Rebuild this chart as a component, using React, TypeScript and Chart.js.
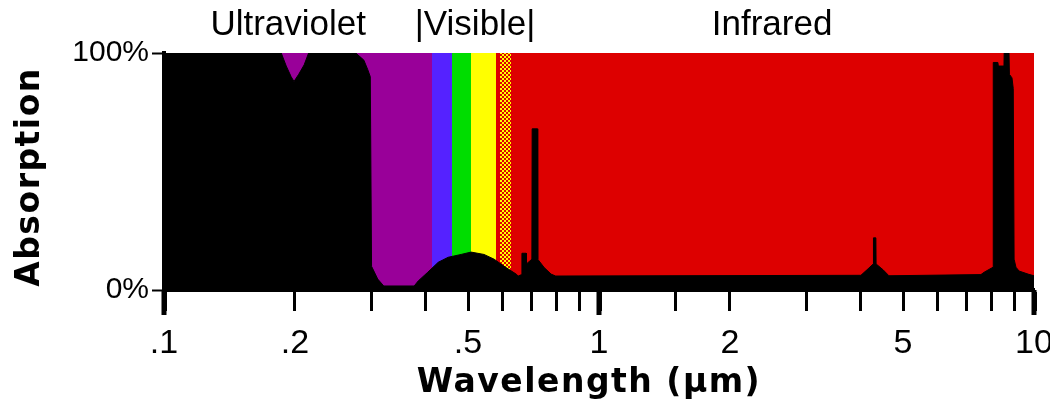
import React, { useEffect, useRef } from "react";
import { Chart, registerables } from "chart.js";

Chart.register(...registerables);

// Absorption curve: wavelength (µm) and absorption (%)
const wavelengths = [
  0.1, 0.186, 0.191, 0.196, 0.199, 0.204, 0.21, 0.215, 0.276, 0.288, 0.294, 0.298, 0.3,
  0.31, 0.32, 0.376, 0.384, 0.404, 0.427, 0.45, 0.482, 0.508, 0.544, 0.574, 0.605, 0.645,
  0.652, 0.664, 0.665, 0.68, 0.681, 0.701, 0.702, 0.722, 0.723, 0.748, 0.776, 0.795,
  4.0, 4.13, 4.27, 4.275, 4.33, 4.335, 4.5, 4.64, 7.55, 7.68, 8.05, 8.06, 8.26, 8.28, 8.53,
  8.54, 8.76, 8.78, 8.9, 8.96, 9.0, 9.09, 9.24, 9.69, 10,
];
const absorption = [
  100, 100, 94.5, 90, 88, 91, 95, 100, 100, 97, 93, 90, 10,
  4.6, 1.7, 1.7, 3.8, 7.5, 11.7, 13.8, 15, 16, 15, 13, 10, 6.7,
  5.9, 6.5, 15.5, 15.5, 11, 13, 68, 68, 13, 9.5, 6.7, 5.9,
  6.2, 8.5, 11, 22, 22, 11, 8.5, 6, 6.5, 7.5, 9.6, 96, 96, 94.5, 94.5,
  100, 100, 91, 89.5, 85, 13, 9.6, 8, 6.7, 6,
];

// Spectral background bands (µm)
const bandStarts = [0.1, 0.413, 0.459, 0.508, 0.58, 0.592, 0.628];
const bandEnds = [0.413, 0.459, 0.508, 0.58, 0.592, 0.628, 10];
const bandColors = ["#990099", "#5522ff", "#00dd00", "#ffff00", "#dd0000", "checker", "#dd0000"];

// Region labels above the plot
const regionLabels = ["Ultraviolet", "|Visible|", "Infrared"];
const regionCenters = [0.193, 0.519, 2.5];

// Axis ticks
const xLabelValues = [0.1, 0.2, 0.5, 1, 2, 5, 10];
const xLabelTexts = [".1", ".2", ".5", "1", "2", "5", "10"];
const xMajorValues = [0.1, 1, 10];
const yTickValues = [0, 100];
const yTickTexts = ["0%", "100%"];

const xTitle = "Wavelength (µm)";
const yTitle = "Absorption";

function makeChecker(): CanvasPattern | string {
  const c = document.createElement("canvas");
  c.width = 4;
  c.height = 4;
  const g = c.getContext("2d");
  if (!g) return "#ee8800";
  g.fillStyle = "#dd0000";
  g.fillRect(0, 0, 4, 4);
  g.fillStyle = "#ffff00";
  g.fillRect(0, 0, 2, 2);
  g.fillRect(2, 2, 2, 2);
  const p = g.createPattern(c, "repeat");
  return p || "#ee8800";
}

export default function App() {
  const ref = useRef<HTMLCanvasElement | null>(null);

  useEffect(() => {
    if (!ref.current) return;
    const checker = makeChecker();

    const bandsPlugin = {
      id: "bands",
      beforeDatasetsDraw(chart: any) {
        const { ctx, chartArea } = chart;
        const xs = chart.scales.x;
        ctx.save();
        ctx.beginPath();
        ctx.rect(chartArea.left, chartArea.top, chartArea.right - chartArea.left, chartArea.bottom - chartArea.top);
        ctx.clip();
        for (let i = 0; i < bandStarts.length; i++) {
          const x1 = Math.round(xs.getPixelForValue(bandStarts[i]));
          const x2 = Math.round(xs.getPixelForValue(bandEnds[i]));
          ctx.fillStyle = bandColors[i] === "checker" ? checker : bandColors[i];
          ctx.fillRect(x1, chartArea.top, x2 - x1, chartArea.bottom - chartArea.top);
        }
        ctx.restore();
      },
    };

    const textPlugin = {
      id: "texts",
      afterDraw(chart: any) {
        const { ctx, chartArea } = chart;
        const xs = chart.scales.x;
        ctx.save();
        // longer major ticks
        ctx.fillStyle = "#000";
        for (const v of xMajorValues) {
          const px = Math.round(xs.getPixelForValue(v));
          ctx.fillRect(px - 2.5, chartArea.bottom, 5, 25);
        }
        ctx.textAlign = "center";
        ctx.textBaseline = "middle";
        ctx.font = '35px "Liberation Sans", Arial, sans-serif';
        for (let i = 0; i < regionLabels.length; i++) {
          ctx.fillText(regionLabels[i], xs.getPixelForValue(regionCenters[i]), 25);
        }
        ctx.font = 'bold 33px "DejaVu Sans", sans-serif';
        (ctx as any).letterSpacing = "1.5px";
        ctx.fillText(xTitle, 589, 383);
        ctx.translate(30, 177);
        ctx.rotate(-Math.PI / 2);
        ctx.fillText(yTitle, 0, 0);
        ctx.restore();
      },
    };

    const chart = new Chart(ref.current, {
      type: "line",
      data: {
        datasets: [
          {
            data: wavelengths.map((w, i) => ({ x: w, y: absorption[i] })),
            borderColor: "#000",
            backgroundColor: "#000",
            borderWidth: 1,
            pointRadius: 0,
            tension: 0,
            fill: "origin",
          },
        ],
      },
      options: {
        responsive: false,
        animation: false,
        layout: { padding: { top: 53, right: 16, left: 0, bottom: 0 } },
        plugins: { legend: { display: false }, tooltip: { enabled: false } },
        scales: {
          x: {
            type: "logarithmic",
            min: 0.1,
            max: 10,
            afterFit(s: any) {
              s.height = 118;
              s.paddingLeft = 0;
              s.paddingRight = 0;
            },
            border: { display: true, color: "#000", width: 4 },
            grid: {
              drawOnChartArea: false,
              drawTicks: true,
              tickLength: 21,
              tickColor: "#000",
              tickWidth: (c: any) => {
                const v = c.tick ? c.tick.value : 0;
                return v === 0.1 || v === 1 || v === 10 ? 5 : 3;
              },
            },
            ticks: {
              autoSkip: false,
              maxRotation: 0,
              padding: 12,
              color: "#000",
              font: { family: '"Liberation Sans", Arial, sans-serif', size: 34 },
              callback: (value: any) => {
                const v = Number(value);
                const idx = xLabelValues.findIndex((t) => Math.abs(t - v) < 1e-9);
                return idx >= 0 ? xLabelTexts[idx] : "";
              },
            },
          },
          y: {
            type: "linear",
            min: 0,
            max: 100,
            afterBuildTicks(s: any) {
              s.ticks = yTickValues.map((v) => ({ value: v }));
            },
            afterFit(s: any) {
              s.width = 164;
            },
            border: { display: true, color: "#000", width: 4 },
            grid: {
              drawOnChartArea: false,
              drawTicks: true,
              tickLength: 12,
              tickColor: "#000",
              tickWidth: 2,
            },
            ticks: {
              padding: 3,
              color: "#000",
              font: { family: '"Liberation Sans", Arial, sans-serif', size: 30 },
              callback: (value: any) => {
                const idx = yTickValues.indexOf(Number(value));
                return idx >= 0 ? yTickTexts[idx] : "";
              },
            },
          },
        },
      },
      plugins: [bandsPlugin, textPlugin],
    });
    return () => chart.destroy();
  }, []);

  return (
    <div style={{ position: "fixed", left: 0, top: 0, width: 1050, height: 408, background: "#fff" }}>
      <canvas ref={ref} width={1050} height={408} />
    </div>
  );
}
